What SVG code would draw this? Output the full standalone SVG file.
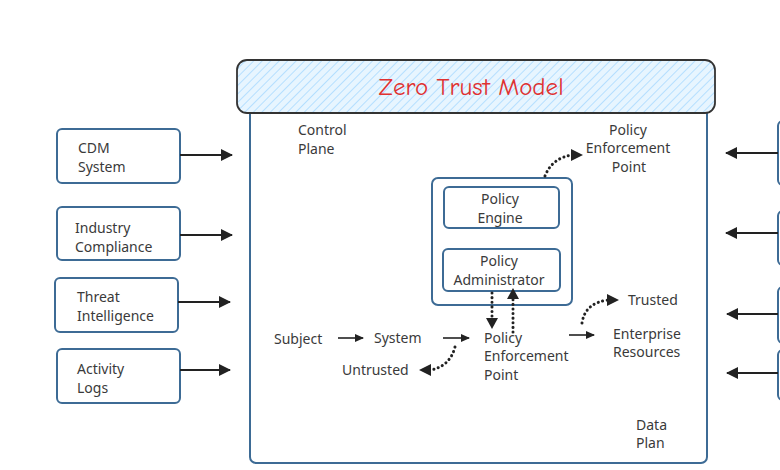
<svg xmlns="http://www.w3.org/2000/svg" width="780" height="470" viewBox="0 0 780 470">
<defs>
<pattern id="hatch" width="6" height="6" patternUnits="userSpaceOnUse" patternTransform="rotate(45)">
<rect width="6" height="6" fill="#e7f5ff"/>
<line x1="0" y1="0" x2="0" y2="6" stroke="#a5d8ff" stroke-width="1.5"/>
</pattern>
<marker id="ah" markerWidth="12" markerHeight="12" refX="11" refY="6" orient="auto" markerUnits="userSpaceOnUse">
<path d="M0,0 L12,6 L0,12 z" fill="#222"/>
</marker>
<marker id="ahs" markerWidth="9" markerHeight="8" refX="8" refY="4" orient="auto" markerUnits="userSpaceOnUse">
<path d="M0,0 L9,4 L0,8 z" fill="#222"/>
</marker>
</defs>
<style>
.box{fill:#fff;stroke:#3d6b95;stroke-width:2}
.t{font-family:"Noto Sans","DejaVu Sans",sans-serif;font-size:14px;fill:#3a3a3a}
.c{text-anchor:middle}
.ar{stroke:#222;stroke-width:2;fill:none}
.ars{stroke:#222;stroke-width:1.6;fill:none}
.dot{stroke:#222;stroke-width:3;fill:none;stroke-dasharray:0.1 4.5;stroke-linecap:round}
</style>
<rect width="780" height="470" fill="#fff"/>

<g id="main-frame"><rect class="box" x="250" y="95" width="457" height="368" rx="6"/></g>
<g id="title">
<rect x="237" y="60" width="478" height="53" rx="10" fill="url(#hatch)" stroke="#333" stroke-width="1.8"/>
<text x="471" y="95" text-anchor="middle" font-family="'Comic Neue','Liberation Sans',sans-serif" font-size="25" fill="#e03131">Zero Trust Model</text>
</g>

<g id="cdm"><rect class="box" x="57" y="129" width="123" height="54" rx="5"/>
<text class="t" x="78" y="153">CDM</text><text class="t" x="78" y="172">System</text></g>
<g id="industry"><rect class="box" x="57" y="207" width="123" height="53" rx="5"/>
<text class="t" x="75" y="233">Industry</text><text class="t" x="75" y="252">Compliance</text></g>
<g id="threat"><rect class="box" x="55" y="278" width="123" height="54" rx="5"/>
<text class="t" x="77" y="302">Threat</text><text class="t" x="77" y="321">Intelligence</text></g>
<g id="activity"><rect class="box" x="57" y="349" width="123" height="54" rx="5"/>
<text class="t" x="77" y="374">Activity</text><text class="t" x="77" y="393">Logs</text></g>

<g id="right-boxes">
<rect class="box" x="778" y="121" width="40" height="64" rx="5"/>
<rect class="box" x="778" y="211" width="40" height="54" rx="5"/>
<rect class="box" x="778" y="287" width="40" height="56" rx="5"/>
<rect class="box" x="778" y="350" width="40" height="50" rx="5"/>
</g>

<g id="labels">
<text class="t" x="298" y="135">Control</text><text class="t" x="298" y="154">Plane</text>
<text class="t c" x="628" y="135">Policy</text><text class="t c" x="628" y="153">Enforcement</text><text class="t c" x="629" y="172">Point</text>
<text class="t" x="274" y="344">Subject</text>
<text class="t" x="374" y="343">System</text>
<text class="t" x="484" y="343">Policy</text><text class="t" x="484" y="361">Enforcement</text><text class="t" x="484" y="380">Point</text>
<text class="t" x="613" y="339">Enterprise</text><text class="t" x="613" y="357">Resources</text>
<text class="t" x="628" y="305">Trusted</text>
<text class="t" x="342" y="375">Untrusted</text>
<text class="t" x="636" y="430">Data</text><text class="t" x="636" y="448">Plan</text>
</g>

<g id="policy-container"><rect class="box" x="432" y="178" width="140" height="127" rx="6"/></g>
<g id="policy-engine"><rect class="box" x="444" y="187" width="115" height="41" rx="5"/>
<text class="t c" x="500" y="204">Policy</text><text class="t c" x="500" y="223">Engine</text></g>
<g id="policy-admin"><rect class="box" x="443" y="249" width="117" height="42" rx="5"/>
<text class="t c" x="499" y="266">Policy</text><text class="t c" x="499" y="285">Administrator</text></g>

<g id="connectors">
<line class="ar" x1="180" y1="155" x2="232" y2="155" marker-end="url(#ah)"/>
<line class="ar" x1="180" y1="235" x2="232" y2="235" marker-end="url(#ah)"/>
<line class="ar" x1="178" y1="302" x2="230" y2="302" marker-end="url(#ah)"/>
<line class="ar" x1="180" y1="370" x2="230" y2="370" marker-end="url(#ah)"/>
<line class="ar" x1="778" y1="153" x2="726" y2="153" marker-end="url(#ah)"/>
<line class="ar" x1="778" y1="233" x2="726" y2="233" marker-end="url(#ah)"/>
<line class="ar" x1="778" y1="314" x2="727" y2="314" marker-end="url(#ah)"/>
<line class="ar" x1="778" y1="373" x2="727" y2="373" marker-end="url(#ah)"/>
<line class="ars" x1="338" y1="338" x2="363" y2="338" marker-end="url(#ahs)"/>
<line class="ars" x1="443" y1="338" x2="469" y2="338" marker-end="url(#ahs)"/>
<line class="ars" x1="569" y1="335" x2="594" y2="335" marker-end="url(#ahs)"/>
<path class="dot" d="M545,176 Q552,158 572,155"/>
<path d="M571,149 L583,155 L571,161 z" fill="#222"/>
<path class="dot" d="M492,293 L492,318"/>
<path d="M486,318 L492,329 L498,318 z" fill="#222"/>
<path class="dot" d="M513,332 L513,299"/>
<path d="M507,299 L513,288 L519,299 z" fill="#222"/>
<path class="dot" d="M582,323 Q585,303 608,300"/>
<path d="M607,294 L619,300 L607,306 z" fill="#222"/>
<path class="dot" d="M455,347 Q450,366 431,370"/>
<path d="M431,364 L419,370 L431,376 z" fill="#222"/>
</g>
</svg>
